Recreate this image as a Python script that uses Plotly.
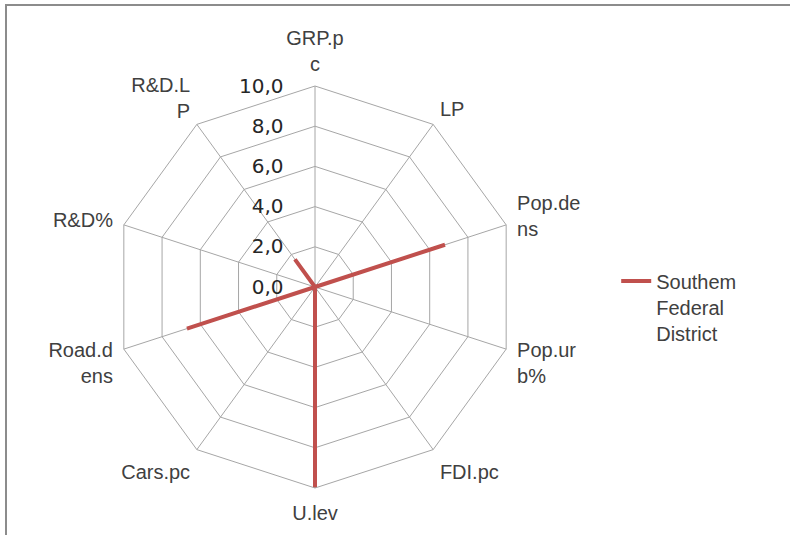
import plotly.graph_objects as go

# Indicator axes (clockwise from the top) and the district's scores on a 0-10 scale
categories = ["GRP.p<br>c", "LP", "Pop.de<br>ns", "Pop.ur<br>b%", "FDI.pc",
              "U.lev", "Cars.pc", "Road.d<br>ens", "R&D%", "R&D.L<br>P"]
southern_values = [0.0, 0.0, 6.8, 0.0, 0.0, 10.0, 0.0, 6.7, 0.0, 1.7]
series_name = "Southem<br>Federal<br>District"
radial_ticks = [0, 2, 4, 6, 8, 10]

W, H = 790, 535
cx, cy, R = 315, 287, 201  # polar centre and outer radius, px

fig = go.Figure()
fig.add_trace(go.Scatterpolar(
    r=southern_values + southern_values[:1],
    theta=categories + categories[:1],
    mode="lines",
    line=dict(color="#c0504d", width=4),
    name=series_name,
))

grid = "#a6a6a6"
fig.update_layout(
    width=W, height=H,
    margin=dict(l=0, r=0, t=0, b=0),
    paper_bgcolor="white",
    separators=", ",
    font=dict(family="Liberation Sans, Arial, sans-serif", color="#404040", size=20),
    polar=dict(
        domain=dict(x=[(cx - R) / W, (cx + R) / W],
                    y=[(H - cy - R) / H, (H - cy + R) / H]),
        gridshape="linear",
        bgcolor="white",
        angularaxis=dict(
            rotation=90, direction="clockwise",
            showline=True, linecolor=grid, linewidth=1,
            gridcolor=grid, gridwidth=1,
            # invisible ticks just to keep the labels off the outer ring
            ticks="outside", ticklen=7, tickcolor="rgba(0,0,0,0)",
            tickfont=dict(size=20, color="#404040"),
        ),
        radialaxis=dict(
            range=[0, 10], tickvals=radial_ticks, tickformat=".1f",
            angle=90, tickangle=90, side="counterclockwise",
            showline=False,
            # transparent ticks set the gap between the labels and the axis
            ticks="outside", ticklen=24, tickcolor="rgba(0,0,0,0)",
            gridcolor=grid, gridwidth=1,
            tickfont=dict(size=20, color="#262626",
                          family="DejaVu Sans, sans-serif"),
        ),
    ),
    showlegend=True,
    legend=dict(x=0.78, y=0.511, xanchor="left", yanchor="top",
                valign="top", font=dict(size=20, color="#404040"),
                bgcolor="rgba(0,0,0,0)"),
    shapes=[dict(type="rect", xref="paper", yref="paper",
                 x0=6 / W, x1=1.05, y0=-0.05, y1=1 - 5 / H,
                 line=dict(color="#8c8c8c", width=2))],
)

fig.write_html("out.html")
